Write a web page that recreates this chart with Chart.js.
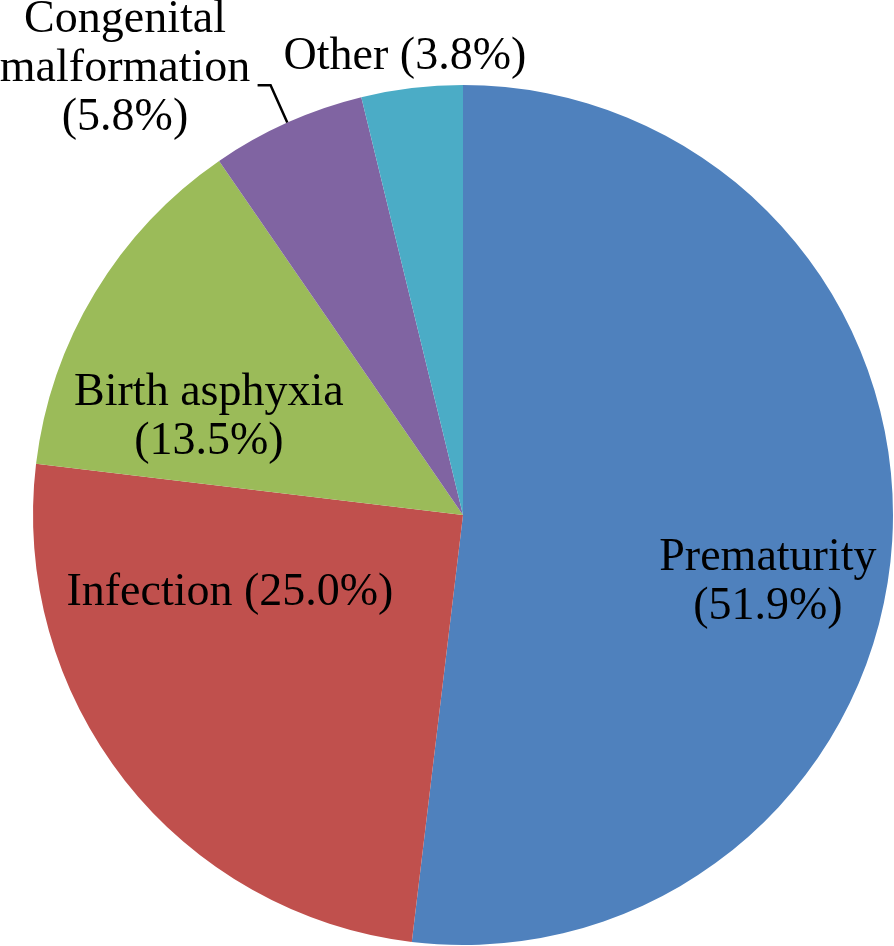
<!DOCTYPE html>
<html>
<head>
<meta charset="utf-8">
<script src="https://cdn.jsdelivr.net/npm/chart.js@4.4.1/dist/chart.umd.min.js"></script>
<style>
  html, body { margin: 0; padding: 0; background: #fff; }
  #wrap { width: 894px; height: 946px; position: relative; }
</style>
</head>
<body>
<div id="wrap"><canvas id="causesChart"></canvas></div>
<script>
// Causes of death, percentages
const categories = ['Prematurity', 'Infection', 'Birth asphyxia', 'Congenital malformation', 'Other'];
const percentages = [51.9, 25.0, 13.5, 5.8, 3.8];
const sliceColors = ['#4F81BD', '#C0504D', '#9BBB59', '#8064A2', '#4BACC6'];

// Draws the data labels (and the one leader line) from the arc geometry
const pieLabels = {
    id: 'pieLabels',
    afterDatasetsDraw(chart, args, opts) {
        const ctx = chart.ctx;
        const meta = chart.getDatasetMeta(0);
        const values = chart.data.datasets[0].data;
        ctx.save();
        ctx.fillStyle = '#000';
        ctx.strokeStyle = '#000';
        ctx.font = opts.fontSize + 'px "Liberation Serif", "Times New Roman", serif';
        ctx.textAlign = 'center';
        ctx.textBaseline = 'alphabetic';
        meta.data.forEach(function(arc, i) {
            const p = arc.getProps(['x', 'y', 'outerRadius', 'startAngle', 'endAngle'], true);
            const spot = opts.spots[i];
            const name = chart.data.labels[i];
            const pct = '(' + values[i].toFixed(1) + '%)';
            let lines;
            if (spot.mode === 'inline') {
                lines = [name + ' ' + pct];
            } else if (spot.mode === 'words') {
                lines = name.split(' ').concat([pct]);
            } else {
                lines = [name, pct];
            }
            const tx = p.x + spot.fx * p.outerRadius;
            const ty = p.y + spot.fy * p.outerRadius;
            lines.forEach(function(line, k) {
                ctx.fillText(line, tx, ty + k * opts.lineHeight);
            });
            if (spot.leader) {
                const mid = (p.startAngle + p.endAngle) / 2;
                const r0 = p.outerRadius;
                const r1 = p.outerRadius * 1.095;
                const x1 = p.x + Math.cos(mid) * r1;
                const y1 = p.y + Math.sin(mid) * r1;
                ctx.lineWidth = 2.5;
                ctx.beginPath();
                ctx.moveTo(p.x + Math.cos(mid) * r0, p.y + Math.sin(mid) * r0);
                ctx.lineTo(x1, y1);
                ctx.lineTo(x1 - 13, y1);
                ctx.stroke();
            }
        });
        ctx.restore();
    }
};

document.addEventListener('DOMContentLoaded', function() {
    const canvas = document.getElementById('causesChart');
    if (!canvas) {
        console.log('canvas not found');
        return;
    }
    new Chart(canvas.getContext('2d'), {
        type: 'pie',
        data: {
            labels: categories,
            datasets: [{
                data: percentages,
                backgroundColor: sliceColors,
                borderWidth: 0,
                hoverOffset: 0
            }]
        },
        options: {
            responsive: true,
            maintainAspectRatio: false,
            animation: false,
            layout: {
                padding: { left: 33, right: 1, top: 85, bottom: 1 }
            },
            plugins: {
                legend: { display: false },
                tooltip: { enabled: false },
                pieLabels: {
                    fontSize: 46,
                    lineHeight: 49,
                    spots: [
                        { fx: 0.709, fy: 0.128, mode: 'two' },
                        { fx: -0.542, fy: 0.209, mode: 'inline' },
                        { fx: -0.591, fy: -0.256, mode: 'two' },
                        { fx: -0.786, fy: -1.123, mode: 'words', leader: true },
                        { fx: -0.135, fy: -1.037, mode: 'inline' }
                    ]
                }
            }
        },
        plugins: [pieLabels]
    });
});
</script>
</body>
</html>
